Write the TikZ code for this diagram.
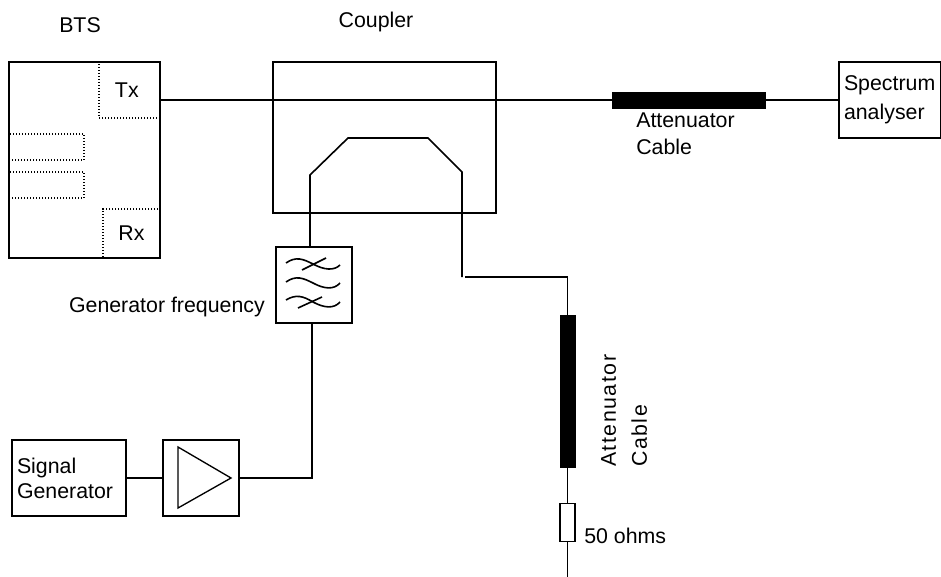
\documentclass[tikz,border=0pt]{standalone}
\usepackage{fontspec}
\setmainfont{Liberation Sans}
\def\dx{.75pt}
\tikzset{block/.style={draw,line width=1.2pt,minimum height=76*\dx,inner sep=0pt,fill=white},
  port/.style={draw,line width=1pt,dash pattern=on 1pt off 1.25pt,inner sep=0pt},
  cable/.style={fill=black,draw,inner sep=0pt},
  wire/.style={line width=1.2pt},
  label/.style={font=\fontsize{16}{18.75}\selectfont,inner sep=0pt,align=left}}

\begin{document}
\begin{tikzpicture}[x=\dx,y=-\dx]
      \useasboundingbox (0,0) rectangle (941,577);
      % base station
      \node[block,minimum width=151*\dx,minimum height=196*\dx] at (84.5,160) (bts) {};
      \node[port,minimum width=61*\dx,minimum height=56*\dx,label] at (129.5,90) (tx) {Tx\hspace*{4pt}};
      \node[port,minimum width=57*\dx,minimum height=49*\dx,label] at (131.5,233.5) (rx) {Rx};
      \node[port,minimum width=75*\dx,minimum height=26*\dx] at (46.5,147) (slota) {};
      \node[port,minimum width=75*\dx,minimum height=26*\dx] at (46.5,185) (slotb) {};
      \node[label] at (80,25) (btslabel) {BTS};
      % coupler
      \node[block,minimum width=223*\dx,minimum height=151*\dx,fill=none] at (384.5,137.5) (coupler) {};
      \node[label] at (376,22) (couplerlabel) {Coupler};
      % filter
      \node[block,minimum width=76*\dx] at (314,285) (filter) {};
      \node[label,anchor=east] at (265,307) (filterlabel) {Generator frequency};
      \draw[wire] (286,263) .. controls (296,256) and (303,259) .. (313,264) .. controls (324,270) and (334,271) .. (340,265);
      \draw[wire] (286,282) .. controls (296,275) and (303,278) .. (313,283) .. controls (324,289) and (334,290) .. (340,283);
      \draw[wire] (286,300) .. controls (296,294) and (303,296) .. (313,302) .. controls (324,308) and (334,309) .. (340,302);
      \draw[wire] (302,270) -- (326,258);
      \draw[wire] (298,308) -- (322,297);
      % source side
      \node[block,minimum width=114*\dx,text width=104*\dx,inner xsep=5*\dx,label] at (69,478) (siggen) {Signal\\Generator};
      \node[block,minimum width=76*\dx] at (201,478) (amp) {};
      \draw[line width=1pt] (178,447) -- (178,508) -- (231,478) -- cycle;
      % analyser side
      \node[cable,minimum width=153*\dx,minimum height=16*\dx] at (688.5,100) (cableh) {};
      \node[label,anchor=north west] at (636,113) (cablehlabel) {Attenuator\\[1.5pt]Cable};
      \node[block,minimum width=102*\dx,text width=92*\dx,inner xsep=5*\dx,label] at (890,100) (spectrum) {Spectrum\\[3pt]analyser};
      % load side
      \node[cable,minimum width=15*\dx,minimum height=152*\dx] at (567.5,391) (cablev) {};
      \node[label,rotate=90,anchor=north west] at (601,467) (cablevlabel) {\addfontfeature{LetterSpace=7}Attenuator\\[4.5pt]\addfontfeature{LetterSpace=7}Cable};
      \node[block,minimum width=15*\dx,minimum height=38*\dx] at (567.5,522.5) (load) {};
      \node[label,anchor=west] at (584,536) (loadlabel) {50 ohms};
      % connections
      \coordinate (txout) at (160,100);
      \coordinate (auxa) at (310,175);
      \coordinate (auxb) at (348,138);
      \coordinate (auxc) at (428,138);
      \coordinate (auxd) at (462,172);
      \coordinate (auxe) at (462,277);
      \coordinate (auxf) at (465,277);
      \coordinate (auxg) at (567.5,277);
      \coordinate (auxh) at (567.5,577);
      \coordinate (auxi) at (312,400);
      \draw[wire] (txout) -- (cableh.west);
      \draw[wire] (cableh.east) -- (spectrum.west);
      \draw[wire] (filter.north -| auxa) -- (auxa) -- (auxb) -- (auxc) -- (auxd) -- (auxe);
      \draw[wire] (auxf) -- (auxg) -- (cablev.north);
      \draw[wire] (cablev.south) -- (load.north);
      \draw[wire] (load.south) -- (auxh);
      \draw[wire] (siggen.east) -- (amp.west);
      \draw[wire] (amp.east) -| (auxi) -- (filter.south -| auxi);
    \end{tikzpicture}
\end{document}
